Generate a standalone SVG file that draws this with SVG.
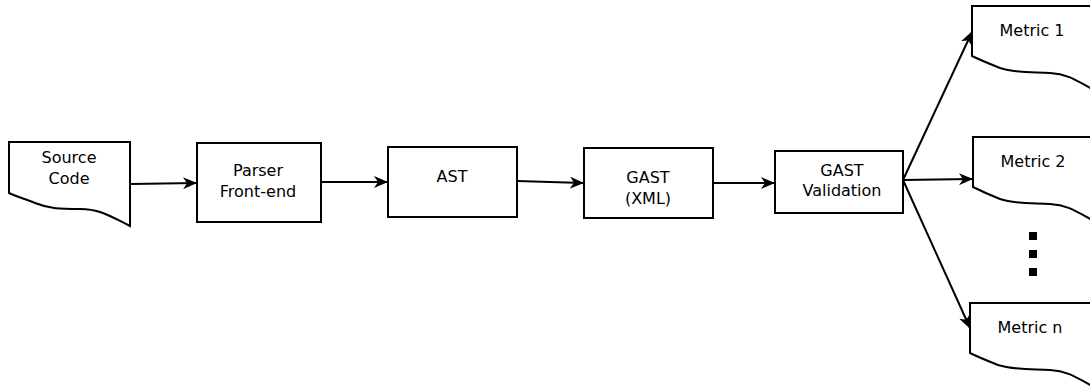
<svg xmlns="http://www.w3.org/2000/svg" width="1090" height="387" viewBox="0 0 1090 387">
<style>
.s{fill:#fff;stroke:#000;stroke-width:2}
.t{font-family:"DejaVu Sans",sans-serif;font-size:16px;fill:#000;text-anchor:middle}
.c{stroke:#000;stroke-width:2;fill:none;marker-end:url(#a)}
</style>
<defs>
<marker id="a" markerWidth="14" markerHeight="12" refX="13" refY="6" orient="auto" markerUnits="userSpaceOnUse">
<path d="M0,0 L14,6 L0,12 L4,6 Z" fill="#000"/>
</marker>
</defs>
<rect width="1090" height="387" fill="#fff"/>
<g id="connectors">
<line class="c" x1="131" y1="184" x2="196" y2="183"/>
<line class="c" x1="322" y1="182" x2="387" y2="182"/>
<line class="c" x1="517" y1="181" x2="583" y2="183"/>
<line class="c" x1="713" y1="183" x2="774" y2="183"/>
<line class="c" x1="903" y1="180" x2="972" y2="32"/>
<line class="c" x1="903" y1="180" x2="972" y2="179"/>
<line class="c" x1="903" y1="180" x2="970" y2="328"/>
</g>
<g id="source">
<path class="s" d="M9,142 H130 V226 C110,216 100,209 80,209 C60,209 50,209 35,203 C25,199 15,196 9,193 Z"/>
<text class="t" x="69" y="163">Source</text>
<text class="t" x="69" y="184">Code</text>
</g>
<g id="parser">
<rect class="s" x="197" y="143" width="124" height="79"/>
<text class="t" x="258" y="176">Parser</text>
<text class="t" x="258" y="197">Front-end</text>
</g>
<g id="ast">
<rect class="s" x="388" y="147" width="129" height="70"/>
<text class="t" x="452" y="182">AST</text>
</g>
<g id="gast">
<rect class="s" x="584" y="148" width="129" height="70"/>
<text class="t" x="648" y="183">GAST</text>
<text class="t" x="648" y="204">(XML)</text>
</g>
<g id="validation">
<rect class="s" x="775" y="151" width="128" height="62"/>
<text class="t" x="842" y="176">GAST</text>
<text class="t" x="842" y="196">Validation</text>
</g>
<g id="metric1">
<path class="s" d="M972,6 H1092 V89 C1080,83 1070,74 1050,73 C1030,72 1015,73 1000,68 C990,64 980,60 972,56 Z"/>
<text class="t" x="1032" y="36">Metric 1</text>
</g>
<g id="metric2">
<path class="s" d="M973,137 H1092 V220 C1080,214 1070,205 1050,204 C1030,203 1015,204 1000,199 C990,195 981,191 973,187 Z"/>
<text class="t" x="1033" y="167">Metric 2</text>
</g>
<g id="dots" fill="#000">
<rect x="1029" y="232" width="8" height="8"/>
<rect x="1029" y="250" width="8" height="8"/>
<rect x="1029" y="268" width="8" height="8"/>
</g>
<g id="metricn">
<path class="s" d="M970,303 H1092 V386 C1080,380 1070,371 1050,370 C1030,369 1013,370 998,365 C988,361 978,357 970,353 Z"/>
<text class="t" x="1030" y="333">Metric n</text>
</g>
</svg>
